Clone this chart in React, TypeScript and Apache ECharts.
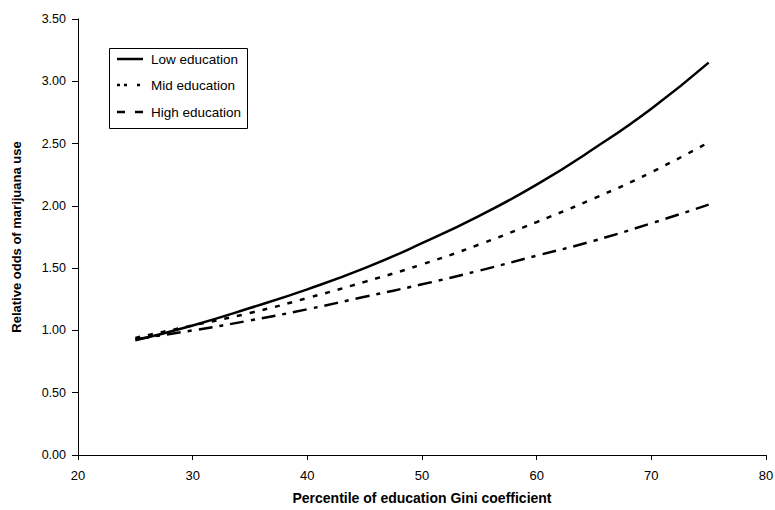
import React, { useEffect, useRef } from "react";
import * as echarts from "echarts";

const percentiles = [25, 30, 35, 40, 45, 50, 55, 60, 65, 70, 75];
const lowEdu = [0.92, 1.04, 1.18, 1.33, 1.5, 1.7, 1.92, 2.17, 2.46, 2.78, 3.15];
const midEdu = [0.94, 1.04, 1.14, 1.26, 1.39, 1.53, 1.69, 1.87, 2.06, 2.27, 2.51];
const highEdu = [0.93, 1.0, 1.08, 1.17, 1.27, 1.37, 1.48, 1.6, 1.72, 1.86, 2.01];
const seriesNames = ["Low education", "Mid education", "High education"];

const toPairs = (ys: number[]) => percentiles.map((x, i) => [x, ys[i]]);

const dashes: any[] = ["solid", [5, 8], [14, 7, 4, 7]];
const legendDashes: any[] = [null, [3, 4, 3, 10], [8, 10]];

export default function App() {
  const ref = useRef<HTMLDivElement>(null);
  useEffect(() => {
    if (!ref.current) return;
    const chart = echarts.init(ref.current, null, { renderer: "svg" });
    const font = "Liberation Sans, Arial, sans-serif";
    const legendRows = [59, 85, 112];
    const legendGraphics: any[] = [
      {
        type: "rect",
        shape: { x: 109.5, y: 48.5, width: 138, height: 80 },
        style: { fill: "#fff", stroke: "#000", lineWidth: 1 },
      },
    ];
    seriesNames.forEach((name, i) => {
      legendGraphics.push({
        type: "line",
        shape: { x1: 117, y1: legendRows[i], x2: 143, y2: legendRows[i] },
        style: { stroke: "#000", lineWidth: 2.5, lineDash: legendDashes[i] },
      });
      legendGraphics.push({
        type: "text",
        x: 151,
        y: legendRows[i],
        style: {
          text: name,
          fill: "#000",
          font: `13.5px ${font}`,
          verticalAlign: "middle",
          align: "left",
        },
      });
    });
    chart.setOption({
      animation: false,
      backgroundColor: "#fff",
      textStyle: { fontFamily: font },
      grid: { left: 78, right: 9, top: 19, bottom: 55, outerBoundsMode: "none", containLabel: false },
      graphic: legendGraphics,
      xAxis: {
        type: "value",
        min: 20,
        max: 80,
        interval: 10,
        name: "Percentile of education Gini coefficient",
        nameLocation: "middle",
        nameGap: 36,
        nameTextStyle: { fontSize: 14, fontWeight: "bold", color: "#000", fontFamily: font },
        axisLine: { lineStyle: { color: "#000", width: 1 } },
        axisTick: { show: true, inside: false, length: 5, lineStyle: { color: "#000" } },
        axisLabel: { fontSize: 13, color: "#000", margin: 14, fontFamily: font },
        splitLine: { show: false },
      },
      yAxis: {
        type: "value",
        min: 0,
        max: 3.5,
        interval: 0.5,
        name: "Relative odds of marijuana use",
        nameLocation: "middle",
        nameGap: 55,
        nameRotate: 90,
        nameTextStyle: { fontSize: 13, fontWeight: "bold", color: "#000", fontFamily: font },
        axisLine: { show: true, lineStyle: { color: "#000", width: 1 } },
        axisTick: { show: true, inside: false, length: 6, lineStyle: { color: "#000" } },
        axisLabel: {
          fontSize: 12.5,
          color: "#000",
          margin: 12,
          fontFamily: font,
          formatter: (v: number) => v.toFixed(2),
        },
        splitLine: { show: false },
      },
      series: [lowEdu, midEdu, highEdu].map((vals, i) => ({
        name: seriesNames[i],
        type: "line",
        data: toPairs(vals),
        smooth: true,
        symbol: "none",
        lineStyle: { color: "#000", width: 2.5, type: dashes[i] },
        itemStyle: { color: "#000" },
        z: 3 - i,
      })),
    });
    return () => chart.dispose();
  }, []);
  return <div ref={ref} style={{ width: 775, height: 510, position: "absolute", left: 0, top: 0 }} />;
}
